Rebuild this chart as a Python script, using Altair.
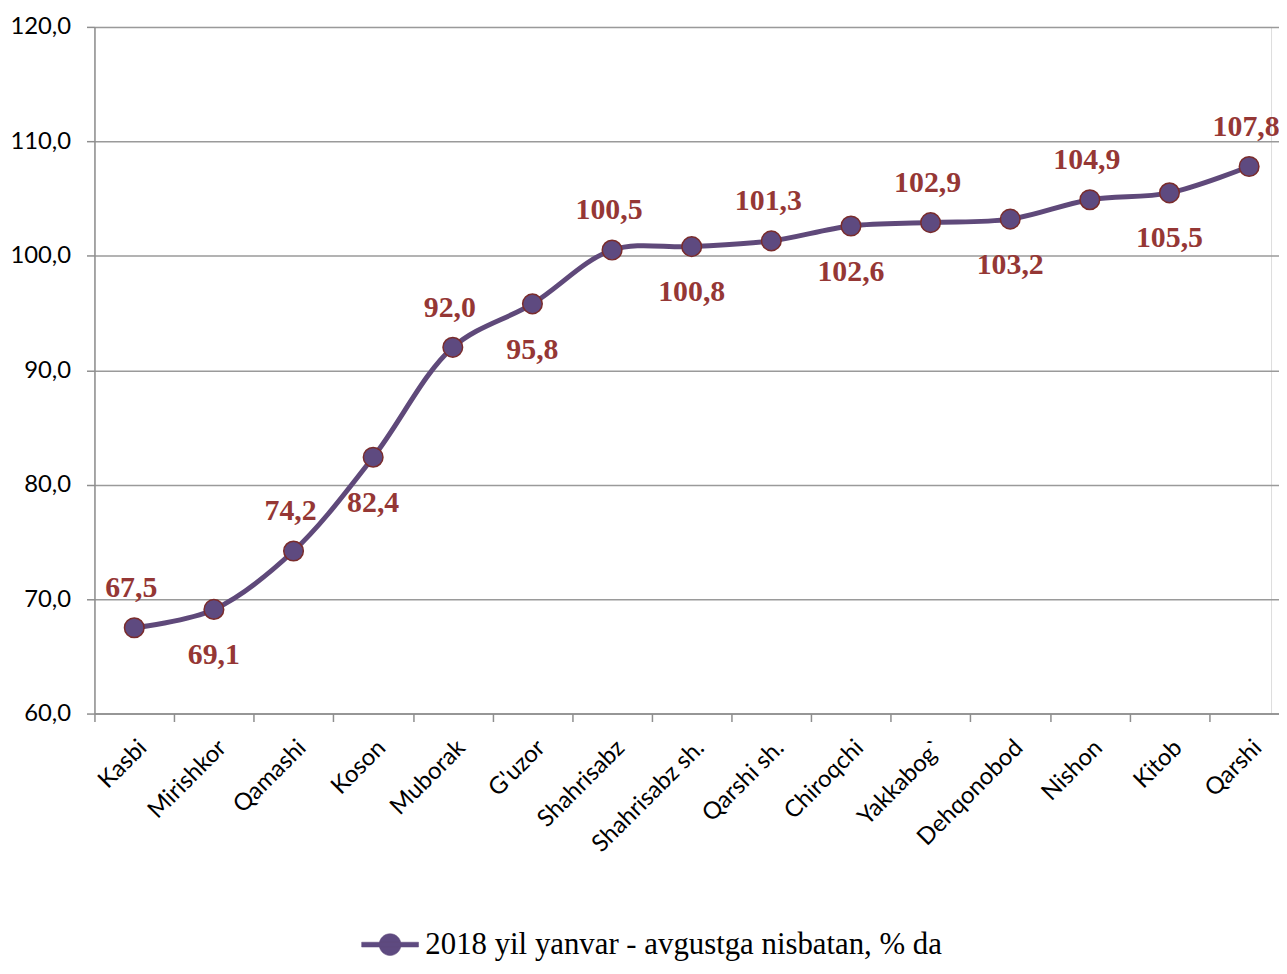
import altair as alt
import pandas as pd

regions = ["Kasbi", "Mirishkor", "Qamashi", "Koson", "Muborak", "G'uzor", "Shahrisabz",
           "Shahrisabz sh.", "Qarshi sh.", "Chiroqchi", "Yakkabog`", "Dehqonobod",
           "Nishon", "Kitob", "Qarshi"]
values = [67.5, 69.1, 74.2, 82.4, 92.0, 95.8, 100.5, 100.8, 101.3, 102.6, 102.9, 103.2,
          104.9, 105.5, 107.8]
series_name = "2018 yil yanvar - avgustga nisbatan, % da"
y_ticks = [60, 70, 80, 90, 100, 110, 120]

df = pd.DataFrame({"region": regions, "value": values, "series": series_name,
                   "idx": list(range(len(regions)))})

LINE = "#5F497A"
FILL = "#5E4A80"
EDGE = "#7A2C2C"
LABEL = "#953735"

x_enc = alt.X("region:N", sort=regions, title=None,
              scale=alt.Scale(type="band", range=[0, 1202], paddingInner=0, paddingOuter=0),
              axis=alt.Axis(labelAngle=-45, labelFont="Lato", labelFontSize=24,
                            labelColor="#000000", tickBand="extent", tickSize=8,
                            tickColor="#8E8E8E", tickWidth=1.5, domainColor="#8E8E8E",
                            domainWidth=1.5, labelPadding=14, grid=False))
y_enc = alt.Y("value:Q", title=None,
              scale=alt.Scale(domain=[60, 120], nice=False, zero=False),
              axis=alt.Axis(values=y_ticks,
                            labelExpr="replace(format(datum.value, '.1f'), '.', ',')",
                            labelFont="Lato", labelFontSize=24, labelColor="#000000",
                            tickSize=8, tickColor="#8E8E8E", tickWidth=1.5,
                            domainColor="#8E8E8E", domainWidth=1.5, labelPadding=16,
                            grid=True, gridColor="#9A9A9A", gridWidth=1.5))

base = alt.Chart(df)

line = base.mark_line(color=LINE, strokeWidth=5, interpolate="catmull-rom").encode(
    x=x_enc, y=y_enc)

legend_path = ("M-2.6,-0.22L2.6,-0.22L2.6,0.22L-2.6,0.22Z "
               "M-1,0A1,1 0 1,1 1,0A1,1 0 1,1 -1,0Z")

points = base.mark_circle(size=390, opacity=1, stroke=EDGE, strokeWidth=1.5).encode(
    x=alt.X("region:N", sort=regions),
    y="value:Q",
    color=alt.Color("series:N", scale=alt.Scale(range=[FILL]),
                    legend=alt.Legend(title=None, orient="none", legendX=282, legendY=908,
                                      symbolType=legend_path, symbolSize=484,
                                      symbolFillColor=LINE, symbolStrokeColor=LINE,
                                      symbolStrokeWidth=0.5, symbolOpacity=1,
                                      labelFont="Liberation Serif", labelFontSize=31,
                                      labelColor="#000000", labelOffset=20,
                                      labelLimit=900, padding=0)))

labels = base.transform_calculate(
    label="replace(format(datum.value, '.1f'), '.', ',')"
)

above = labels.transform_filter("datum.idx % 2 == 0").mark_text(
    font="Liberation Serif", fontSize=30, fontWeight="bold", color=LABEL,
    dy=-40, dx=-3, baseline="middle").encode(
    x=alt.X("region:N", sort=regions), y="value:Q", text="label:N")

below = labels.transform_filter("datum.idx % 2 == 1").mark_text(
    font="Liberation Serif", fontSize=30, fontWeight="bold", color=LABEL,
    dy=46, baseline="middle").encode(
    x=alt.X("region:N", sort=regions), y="value:Q", text="label:N")

chart = alt.layer(line, points, above, below).properties(
    width=1184, height=691,
    autosize=alt.AutoSizeParams(type="none"),
    padding={"left": 87, "top": 16, "right": 8, "bottom": 249},
).configure_view(stroke=None).configure(background="#ffffff")

chart.save("out.html", embed_options={"renderer": "svg", "actions": False})
